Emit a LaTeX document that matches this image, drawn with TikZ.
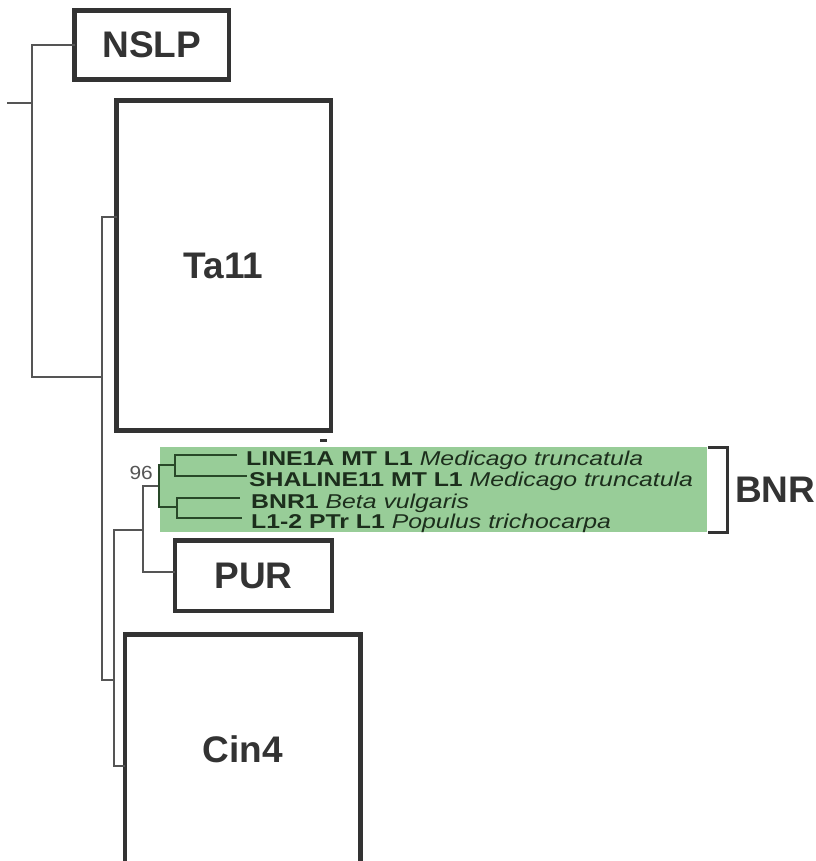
\documentclass[tikz,border=0pt]{standalone}
\usepackage{fontspec}
\setmainfont{Liberation Sans}
\usepackage{graphicx}
\usetikzlibrary{positioning}

\definecolor{boxline}{RGB}{51,51,51}
\definecolor{treeline}{RGB}{85,85,85}
\definecolor{hilitegreen}{RGB}{152,205,152}
\definecolor{hiliteline}{RGB}{40,72,40}
\definecolor{hilitetext}{RGB}{28,46,28}

\newcommand{\leafname}[2]{\scalebox{1.24}[1]{\textbf{#1} \textit{#2}}}

\begin{document}
\begin{tikzpicture}[
  x=1pt, y=-1pt,
  clade/.style={draw=boxline, line width=4.2pt, outer sep=0pt, inner sep=0pt,
                font=\fontsize{37}{37}\selectfont\bfseries, text=boxline},
  cladelab/.style={font=\fontsize{37}{37}\selectfont\bfseries, text=boxline, inner sep=0pt},
  hilite/.style={fill=hilitegreen, draw=none, outer sep=0pt, inner sep=0pt},
  leaf/.style={font=\fontsize{20}{20}\selectfont, text=hilitetext, inner sep=0pt},
  support/.style={font=\fontsize{19}{19}\selectfont, text=treeline, inner sep=0pt},
  branch/.style={line width=1.3pt, treeline},
  inbranch/.style={line width=1.3pt, hiliteline},
  bracket/.style={line width=3pt, boxline},
]
  \useasboundingbox (0,0) rectangle (815,861);

  % Collapsed clades
  \node[clade, minimum width=154.5pt, minimum height=69pt] (nslp) at (151.75,45) {NSLP};
  \node[clade, minimum width=214.5pt, minimum height=330pt] (ta11) at (223.75,265.5) {Ta11};
  \node[clade, minimum width=157pt, minimum height=70.5pt] (pur) at (253.5,575.75) {PUR};
  \node[clade, anchor=north west, minimum width=235.5pt, minimum height=300pt] (cin4) at (125,634.5) {};
  \node[cladelab] (cin4lab) at ([yshift=-114.5pt]cin4.north) {Cin4};
  \draw[line width=2.5pt, boxline] (320,440.5) -- (327,440.5);

  % BNR highlight
  \node[hilite, anchor=north west, minimum width=547pt, minimum height=85pt] (bnrbox) at (160,447) {};

  % Inner nodes and tips
  \coordinate (stub) at (7,103);
  \coordinate (root) at (32,103);
  \coordinate (n1) at (102,377);
  \coordinate (n2) at (114,680);
  \coordinate (n3) at (143,530);
  \coordinate (n96) at (159,486);
  \coordinate (n4) at (175,465);
  \coordinate (n5) at (177,507);
  \coordinate (t1) at (237,455);
  \coordinate (t2) at (247,476);
  \coordinate (t3) at (240,498);
  \coordinate (t4) at (242,518);

  % Leaves
  \node[leaf, right=9pt of t1, yshift=-5.5pt] (line1a) {\leafname{LINE1A MT L1}{Medicago truncatula}};
  \node[leaf, right=2pt of t2, yshift=-5.5pt] (shaline) {\leafname{SHALINE11 MT L1}{Medicago truncatula}};
  \node[leaf, right=11pt of t3, yshift=-5.5pt] (bnr1) {\leafname{BNR1}{Beta vulgaris}};
  \node[leaf, right=9pt of t4, yshift=-5.5pt] (l12) {\leafname{L1-2 PTr L1}{Populus trichocarpa}};
  \node[support, anchor=south east] (bs96) at ([shift={(-6pt,6pt)}]n96) {\scalebox{1.1}[1]{96}};

  % Branches
  \draw[branch] (stub) -- (root);
  \draw[branch] (root) |- (nslp.west);
  \draw[branch] (root) |- (n1);
  \draw[branch] (n1) |- ([yshift=48.5pt]ta11.west);
  \draw[branch] (n1) |- (n2);
  \draw[branch] (n2) |- ([yshift=-131.5pt]cin4.north west);
  \draw[branch] (n2) |- (n3);
  \draw[branch] (n3) |- ([yshift=3.75pt]pur.west);
  \draw[branch] (n3) |- (n96);
  \draw[inbranch] (n96) |- (n4);
  \draw[inbranch] (n96) |- (n5);
  \draw[inbranch] (n4) |- (t1);
  \draw[inbranch] (n4) |- (t2);
  \draw[inbranch] (n5) |- (t3);
  \draw[inbranch] (n5) |- (t4);

  % Bracket
  \draw[bracket] ([xshift=1pt]bnrbox.north east) -| ([xshift=20pt]bnrbox.south east) -- ([xshift=1pt]bnrbox.south east);
  \node[cladelab, anchor=west] (bnr) at ([xshift=28pt]bnrbox.east) {BNR};
\end{tikzpicture}
\end{document}
